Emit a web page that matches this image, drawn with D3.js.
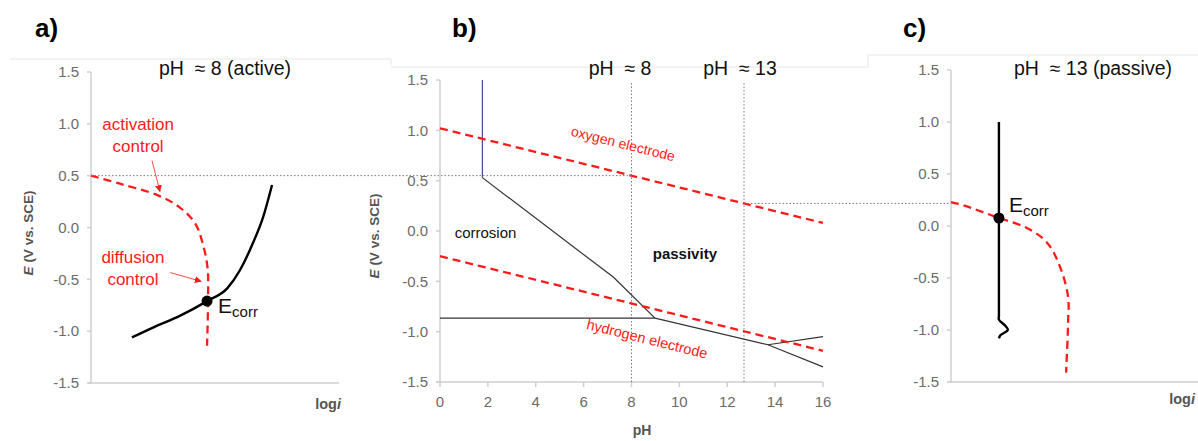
<!DOCTYPE html>
<html>
<head>
<meta charset="utf-8">
<script src="https://cdn.jsdelivr.net/npm/d3@7"></script>
<style>
  body { margin: 0; background: #fff; }
  svg { font-family: "Liberation Sans", Arial, Helvetica, sans-serif; }
  .tick-label { fill: #6b6b6b; font-size: 15px; }
  .axis-line { stroke: #cfcfcf; stroke-width: 1.5; fill: none; }
  .axis-title { fill: #555; font-size: 13.5px; font-weight: bold; }
  .guide { stroke: #7a7a7a; stroke-width: 1; stroke-dasharray: 1.5,2; fill: none; }
  .red-dash { stroke: #ff1a1a; stroke-width: 2.3; stroke-dasharray: 8,5; fill: none; }
  .curve { stroke: #000; stroke-width: 2.4; fill: none; }
  .pourbaix { stroke: #333; stroke-width: 1.2; fill: none; }
  .frame { stroke: #e6e6e6; stroke-width: 1; }
  .red-label { fill: #ff1a1a; }
</style>
</head>
<body>
<div class="graph"></div>
<script>
// ticks
var eTicks = [-1.5, -1.0, -0.5, 0.0, 0.5, 1.0, 1.5];
var phTicks = [0, 2, 4, 6, 8, 10, 12, 14, 16];

// a) pH ~ 8, active : log i / E
var activeCathodicLogI = [0, 1.2, 2.7, 3.6, 4.2, 4.5, 4.7, 4.72, 4.68];
var activeCathodicE    = [0.50, 0.42, 0.31, 0.19, 0.04, -0.15, -0.39, -0.70, -1.14];
var activeAnodicLogI   = [1.65, 2.5, 3.6, 4.68, 5.5, 6.01, 6.53, 6.94, 7.30];
var activeAnodicE      = [-1.06, -0.965, -0.85, -0.71, -0.585, -0.41, -0.15, 0.10, 0.41];
var activeEcorr = [4.68, -0.71];

// b) Pourbaix diagram : pH / E
var oxygenElectrode   = [[0, 1.02], [16, 0.08]];
var hydrogenElectrode = [[0, -0.25], [16, -1.19]];
var passiveFilmLine   = [[1.77, 1.5], [1.77, 0.53]];
var corrosionBoundary = [[1.77, 0.53], [7.25, -0.46], [8.98, -0.865]];
var immunityLine      = [[0, -0.865], [8.98, -0.865]];
var lowerBoundary     = [[8.98, -0.865], [13.7, -1.13], [16, -1.35]];
var upperBranch       = [[13.7, -1.13], [16, -1.05]];
var phMarks = [8, 12.7];

// c) pH ~ 13, passive : log i / E
var passiveCathodicLogI = [0, 0.49, 1.94, 3.08, 3.89, 4.41, 4.74, 4.74, 4.66];
var passiveCathodicE    = [0.23, 0.20, 0.077, -0.02, -0.16, -0.39, -0.68, -0.93, -1.41];
var passiveAnodicLogI   = [1.94, 1.94, 1.94, 2.2, 2.3, 2.0, 1.94];
var passiveAnodicE      = [1.0, -0.86, -0.90, -0.96, -1.0, -1.05, -1.08];
var passiveEcorr = [1.94, 0.077];

var width = 1198, height = 441;

var svg = d3.select(".graph").append("svg")
  .attr("width", width)
  .attr("height", height);

svg.append("defs").append("marker")
  .attr("id", "arrow")
  .attr("viewBox", "0 0 10 10")
  .attr("refX", 9).attr("refY", 5)
  .attr("markerWidth", 7).attr("markerHeight", 7)
  .attr("markerUnits", "userSpaceOnUse")
  .attr("orient", "auto")
  .append("path")
  .attr("d", "M0,0 L10,5 L0,10 z")
  .attr("fill", "#ff1a1a");

// scales
var xA = d3.scaleLinear().domain([0, 10]).range([91, 339]);
var yA = d3.scaleLinear().domain([-1.5, 1.5]).range([383, 72]);
var xB = d3.scaleLinear().domain([0, 16]).range([440, 823]);
var yB = d3.scaleLinear().domain([-1.5, 1.5]).range([382, 80]);
var xC = d3.scaleLinear().domain([0, 10]).range([951, 1198]);
var yC = d3.scaleLinear().domain([-1.5, 1.5]).range([382, 70]);

// hyphen instead of unicode minus, like the original
var fmt = function(d) { return d3.format(".1f")(d).replace("\u2212", "-"); };

function zip(a, b) { return a.map(function(v, i) { return [v, b[i]]; }); }

// image frame leftovers
svg.append("line").attr("class", "frame").attr("x1", 10).attr("y1", 59).attr("x2", 391).attr("y2", 59);
svg.append("line").attr("class", "frame").attr("x1", 391).attr("y1", 59).attr("x2", 391).attr("y2", 65);
svg.append("line").attr("class", "frame").attr("x1", 391).attr("y1", 67).attr("x2", 868).attr("y2", 67);
svg.append("line").attr("class", "frame").attr("x1", 868).attr("y1", 55).attr("x2", 1198).attr("y2", 55);
svg.append("line").attr("class", "frame").attr("x1", 868).attr("y1", 55).attr("x2", 868).attr("y2", 67);

// y axis with ticks on the left, no domain path
function yAxis(x, y) {
  var g = svg.append("g");
  g.append("line").attr("class", "axis-line")
    .attr("x1", x.range()[0]).attr("x2", x.range()[0])
    .attr("y1", y.range()[0]).attr("y2", y.range()[1]);
  g.append("line").attr("class", "axis-line")
    .attr("x1", x.range()[0] - 3).attr("x2", x.range()[1])
    .attr("y1", y.range()[0]).attr("y2", y.range()[0]);
  g.selectAll(".ytick").data(eTicks).enter().append("line")
    .attr("class", "axis-line")
    .attr("x1", x.range()[0] - 4).attr("x2", x.range()[0])
    .attr("y1", function(d) { return y(d); })
    .attr("y2", function(d) { return y(d); });
  g.selectAll(".tick-label").data(eTicks).enter().append("text")
    .attr("class", "tick-label")
    .attr("x", x.range()[0] - 12)
    .attr("y", function(d) { return y(d); })
    .attr("dy", "0.35em")
    .attr("text-anchor", "end")
    .text(fmt);
  return g;
}

function yTitle(cx, cy) {
  var t = svg.append("text").attr("class", "axis-title")
    .attr("text-anchor", "middle")
    .attr("transform", "translate(" + cx + "," + cy + ") rotate(-90)");
  t.append("tspan").attr("font-style", "italic").text("E");
  t.append("tspan").text(" (V vs. SCE)");
}

function logiTitle(xr, yb) {
  var t = svg.append("text").attr("class", "axis-title")
    .attr("x", xr).attr("y", yb).attr("text-anchor", "end")
    .style("font-size", "14.5px");
  t.append("tspan").text("log");
  t.append("tspan").attr("font-style", "italic").text("i");
}

function ecorr(x, y, p, dx, dy) {
  svg.append("circle").attr("cx", x(p[0])).attr("cy", y(p[1])).attr("r", 5.5).attr("fill", "#000");
  var t = svg.append("text").attr("x", x(p[0]) + dx).attr("y", y(p[1]) + dy)
    .style("font-size", "21px").attr("fill", "#111");
  t.append("tspan").text("E");
  t.append("tspan").attr("dy", 4).style("font-size", "15px").text("corr");
}

var line = d3.line().x(function(d) { return d[0]; }).y(function(d) { return d[1]; });
function scaled(x, y, pts) { return pts.map(function(d) { return [x(d[0]), y(d[1])]; }); }
var smooth = d3.line().curve(d3.curveCatmullRom.alpha(0.5));
var monotone = d3.line().curve(d3.curveMonotoneX);

// panel letters and titles
[["a)", 35], ["b)", 452], ["c)", 903]].forEach(function(d) {
  svg.append("text").attr("x", d[1]).attr("y", 37)
    .style("font-size", "26px").style("font-weight", "bold").text(d[0]);
});
function title(txt, cx) {
  svg.append("text").attr("x", cx).attr("y", 75).attr("text-anchor", "middle")
    .style("font-size", "19.5px").style("white-space", "pre").attr("fill", "#111").text(txt);
}
title("pH  \u2248 8 (active)", 225);
title("pH  \u2248 8", 620);
title("pH  \u2248 13", 740);
title("pH  \u2248 13 (passive)", 1093);

// ---------- a) ----------
yAxis(xA, yA);
yTitle(33, 233);
logiTitle(341, 409);

svg.append("path").attr("class", "red-dash")
  .attr("d", smooth(scaled(xA, yA, zip(activeCathodicLogI, activeCathodicE))));
svg.append("path").attr("class", "curve")
  .attr("d", monotone(scaled(xA, yA, zip(activeAnodicLogI, activeAnodicE))));
ecorr(xA, yA, activeEcorr, 11, 12);

svg.append("text").attr("class", "red-label").attr("text-anchor", "middle")
  .attr("x", xA(1.9)).attr("y", yA(0.945)).style("font-size", "17px").text("activation");
svg.append("text").attr("class", "red-label").attr("text-anchor", "middle")
  .attr("x", xA(1.9)).attr("y", yA(0.733)).style("font-size", "17px").text("control");
svg.append("text").attr("class", "red-label").attr("text-anchor", "middle")
  .attr("x", xA(1.69)).attr("y", yA(-0.347)).style("font-size", "17px").text("diffusion");
svg.append("text").attr("class", "red-label").attr("text-anchor", "middle")
  .attr("x", xA(1.69)).attr("y", yA(-0.559)).style("font-size", "17px").text("control");

svg.append("line").attr("stroke", "#ff1a1a").attr("stroke-width", 0.8)
  .attr("x1", xA(2.46)).attr("y1", yA(0.646)).attr("x2", xA(2.78)).attr("y2", yA(0.347))
  .attr("marker-end", "url(#arrow)");
svg.append("line").attr("stroke", "#ff1a1a").attr("stroke-width", 0.8)
  .attr("x1", xA(3.19)).attr("y1", yA(-0.434)).attr("x2", xA(4.44)).attr("y2", yA(-0.52))
  .attr("marker-end", "url(#arrow)");

// ---------- b) ----------
var gB = svg.append("g");
gB.append("line").attr("class", "axis-line")
  .attr("x1", xB(0)).attr("x2", xB(0)).attr("y1", yB(-1.5)).attr("y2", yB(1.5));
gB.append("line").attr("class", "axis-line")
  .attr("x1", xB(0) - 4).attr("x2", xB(16)).attr("y1", yB(-1.5)).attr("y2", yB(-1.5));
gB.selectAll(".yt").data(eTicks).enter().append("line").attr("class", "axis-line")
  .attr("x1", xB(0) - 4).attr("x2", xB(0))
  .attr("y1", function(d) { return yB(d); }).attr("y2", function(d) { return yB(d); });
gB.selectAll(".yl").data(eTicks).enter().append("text").attr("class", "tick-label")
  .attr("x", xB(0) - 12).attr("y", function(d) { return yB(d); }).attr("dy", "0.35em")
  .attr("text-anchor", "end").text(fmt);
gB.selectAll(".xt").data(phTicks).enter().append("line").attr("class", "axis-line")
  .attr("x1", function(d) { return xB(d); }).attr("x2", function(d) { return xB(d); })
  .attr("y1", yB(-1.5)).attr("y2", yB(-1.5) + 5);
gB.selectAll(".xl").data(phTicks).enter().append("text").attr("class", "tick-label")
  .attr("x", function(d) { return xB(d); }).attr("y", yB(-1.5) + 25)
  .attr("text-anchor", "middle").text(function(d) { return d; });
yTitle(379, 236);
svg.append("text").attr("class", "axis-title").attr("x", 642).attr("y", 435)
  .attr("text-anchor", "middle").style("font-size", "14px").text("pH");

// guides: pH marks and cross-panel potentials
gB.selectAll(".phmark").data(phMarks).enter().append("line").attr("class", "guide")
  .attr("x1", function(d) { return xB(d); }).attr("x2", function(d) { return xB(d); })
  .attr("y1", yB(1.47)).attr("y2", yB(-1.5));
function o2At(ph) {
  var a = oxygenElectrode[0], b = oxygenElectrode[1];
  return a[1] + (b[1] - a[1]) * (ph - a[0]) / (b[0] - a[0]);
}
svg.append("line").attr("class", "guide")
  .attr("x1", xA(0)).attr("x2", xB(phMarks[0]))
  .attr("y1", yB(o2At(phMarks[0]))).attr("y2", yB(o2At(phMarks[0])));
svg.append("line").attr("class", "guide")
  .attr("x1", xB(phMarks[1])).attr("x2", xC(0))
  .attr("y1", yB(o2At(phMarks[1]))).attr("y2", yB(o2At(phMarks[1])));

gB.append("path").attr("class", "pourbaix")
  .style("stroke", "#3b4f93").attr("d", line(scaled(xB, yB, passiveFilmLine)));
[corrosionBoundary, immunityLine, lowerBoundary, upperBranch].forEach(function(seg) {
  gB.append("path").attr("class", "pourbaix").attr("d", line(scaled(xB, yB, seg)));
});
gB.append("path").attr("class", "red-dash").attr("d", line(scaled(xB, yB, oxygenElectrode)));
gB.append("path").attr("class", "red-dash").attr("d", line(scaled(xB, yB, hydrogenElectrode)));

gB.append("text").attr("class", "red-label").attr("text-anchor", "middle")
  .style("font-size", "14px")
  .attr("transform", "translate(" + xB(7.6) + "," + yB(0.82) + ") rotate(14)")
  .text("oxygen electrode");
gB.append("text").attr("class", "red-label").attr("text-anchor", "middle")
  .style("font-size", "14.5px")
  .attr("transform", "translate(" + xB(8.6) + "," + yB(-1.12) + ") rotate(14)")
  .text("hydrogen electrode");
gB.append("text").attr("text-anchor", "middle").attr("fill", "#111")
  .style("font-size", "15px")
  .attr("x", xB(1.9)).attr("y", yB(-0.07)).text("corrosion");
gB.append("text").attr("text-anchor", "middle").attr("fill", "#111")
  .style("font-size", "15px").style("font-weight", "bold")
  .attr("x", xB(10.23)).attr("y", yB(-0.28)).text("passivity");

// ---------- c) ----------
yAxis(xC, yC);
logiTitle(1195, 404);
svg.append("path").attr("class", "red-dash")
  .attr("d", smooth(scaled(xC, yC, zip(passiveCathodicLogI, passiveCathodicE))));
svg.append("path").attr("class", "curve")
  .attr("d", smooth(scaled(xC, yC, zip(passiveAnodicLogI, passiveAnodicE))));
ecorr(xC, yC, passiveEcorr, 10, -6);
</script>
</body>
</html>
